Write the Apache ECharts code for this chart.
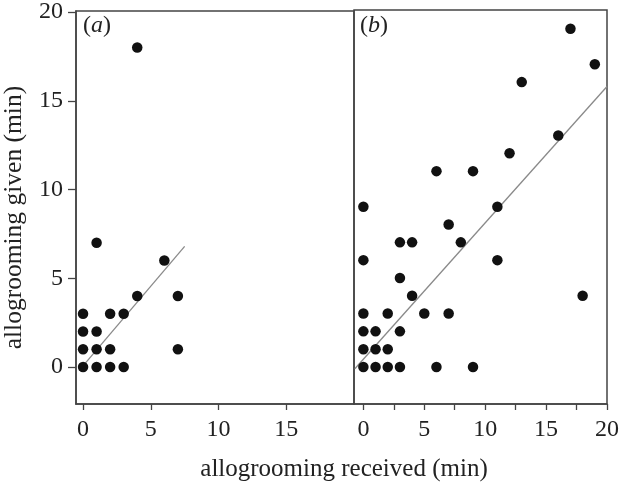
<!DOCTYPE html>
<html>
<head>
<meta charset="utf-8">
<script src="https://cdn.jsdelivr.net/npm/echarts@6/dist/echarts.min.js"></script>
<style>
  html, body { margin: 0; padding: 0; background: #fff; }
  #chart { width: 622px; height: 487px; }
</style>
</head>
<body>
<div id="chart"></div>
<script>
  // panel (a)
  const aReceived = [4, 1, 6, 4, 7, 0, 2, 3, 0, 1, 0, 1, 2, 7, 0, 1, 2, 3]
  const aGiven    = [18, 7, 6, 4, 4, 3, 3, 3, 2, 2, 1, 1, 1, 1, 0, 0, 0, 0]
  // panel (b)
  const bReceived = [17, 19, 13, 16, 12, 6, 9, 0, 11, 7, 3, 4, 8, 0, 11, 3, 4, 18,
                     0, 2, 5, 7, 0, 1, 3, 0, 1, 2, 0, 1, 2, 3, 6, 9]
  const bGiven    = [19, 17, 16, 13, 12, 11, 11, 9, 9, 8, 7, 7, 7, 6, 6, 5, 4, 4,
                     3, 3, 3, 3, 2, 2, 2, 1, 1, 1, 0, 0, 0, 0, 0, 0]
  // fitted lines (end points)
  const fitA = [[-0.3, -0.2], [7.5, 6.8]]
  const fitB = [[-0.7, -0.1], [20, 15.75]]

  const yTicks = [0, 5, 10, 15, 20]
  const xTicksA = [0, 5, 10, 15]
  const xTicksB = [0, 5, 10, 15, 20]
  const xMinorB = [0, 2.5, 5, 7.5, 10, 12.5, 15, 17.5, 20]

  const font = 'Liberation Serif'
  const ink = '#444'

  const zip = (xs, ys) => xs.map((x, i) => [x, ys[i]])

  const xAxisBase = (idx, min, ticks, tickVals) => ({
    type: 'value',
    gridIndex: idx,
    min: min,
    max: 20,
    splitLine: { show: false },
    axisLine: { show: true, onZero: false, lineStyle: { color: ink, width: 1.5 } },
    axisTick: { show: true, inside: false, length: 6, customValues: tickVals, lineStyle: { color: ink, width: 1.3 } },
    axisLabel: { customValues: ticks, margin: 14, color: '#222', fontFamily: font, fontSize: 24 }
  })

  const chart = echarts.init(document.getElementById('chart'))
  chart.setOption({
    animation: false,
    grid: [
      { left: 75, top: 10, width: 279, height: 394, show: true, borderColor: ink, borderWidth: 1.5 },
      { left: 354, top: 10, width: 255, height: 394, show: true, borderColor: ink, borderWidth: 1.5 }
    ],
    xAxis: [
      xAxisBase(0, -0.52, xTicksA, xTicksA),
      xAxisBase(1, -0.77, xTicksB, xMinorB)
    ],
    yAxis: [
      {
        type: 'value',
        gridIndex: 0,
        min: -2.08,
        max: 20.05,
        splitLine: { show: false },
        axisLine: { show: true, onZero: false, lineStyle: { color: ink, width: 1.5 } },
        axisTick: { show: true, length: 8, customValues: yTicks, lineStyle: { color: ink, width: 1.3 } },
        axisLabel: { customValues: yTicks, margin: 13, color: '#222', fontFamily: font, fontSize: 24 },
        name: 'allogrooming given (min)',
        nameLocation: 'middle',
        nameGap: 49,
        nameTextStyle: { color: '#222', fontFamily: font, fontSize: 25.5, padding: [0, 20, 0, 0] }
      },
      {
        type: 'value',
        gridIndex: 1,
        min: -2.08,
        max: 20.05,
        show: false
      }
    ],
    series: [
      {
        type: 'line',
        xAxisIndex: 0, yAxisIndex: 0,
        data: fitA,
        symbol: 'none',
        lineStyle: { color: '#8a8a8a', width: 1.3 },
        z: 1
      },
      {
        type: 'line',
        xAxisIndex: 1, yAxisIndex: 1,
        data: fitB,
        symbol: 'none',
        lineStyle: { color: '#8a8a8a', width: 1.3 },
        z: 1
      },
      {
        type: 'scatter',
        xAxisIndex: 0, yAxisIndex: 0,
        data: zip(aReceived, aGiven),
        symbolSize: 10.5,
        itemStyle: { color: '#111', opacity: 1 },
        z: 3
      },
      {
        type: 'scatter',
        xAxisIndex: 1, yAxisIndex: 1,
        data: zip(bReceived, bGiven),
        symbolSize: 10.5,
        itemStyle: { color: '#111', opacity: 1 },
        z: 3
      }
    ],
    graphic: [
      {
        type: 'text', left: 83, top: 14,
        style: {
          text: '{p|(}{i|a}{p|)}',
          rich: {
            p: { fontFamily: font, fontSize: 24, fill: '#222' },
            i: { fontFamily: font, fontSize: 24, fontStyle: 'italic', fill: '#222' }
          }
        }
      },
      {
        type: 'text', left: 360, top: 14,
        style: {
          text: '{p|(}{i|b}{p|)}',
          rich: {
            p: { fontFamily: font, fontSize: 24, fill: '#222' },
            i: { fontFamily: font, fontSize: 24, fontStyle: 'italic', fill: '#222' }
          }
        }
      },
      {
        type: 'text', x: 344, y: 469,
        style: {
          text: 'allogrooming received (min)',
          fontFamily: font, fontSize: 25, fill: '#222',
          textAlign: 'center', textVerticalAlign: 'middle'
        }
      }
    ]
  })
</script>
</body>
</html>
